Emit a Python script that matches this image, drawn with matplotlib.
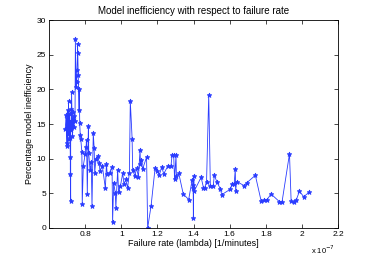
import matplotlib
matplotlib.use('Agg')
import matplotlib.pyplot as plt
from matplotlib.ticker import FormatStrFormatter

# failure rate in units of 1e-7 [1/minutes]
failure_rate = [
    0.690, 0.695, 0.698, 0.700, 0.702, 0.704, 0.706, 0.708, 0.710, 0.712,
    0.714, 0.716, 0.718, 0.718, 0.720, 0.720, 0.722, 0.724, 0.725, 0.728,
    0.730, 0.733, 0.736, 0.740, 0.744, 0.746, 0.750, 0.753, 0.755, 0.758,
    0.758, 0.762, 0.765, 0.768, 0.770, 0.773, 0.776, 0.782, 0.784, 0.790,
    0.800, 0.805, 0.808, 0.812, 0.818, 0.820, 0.827, 0.834, 0.838, 0.845,
    0.850, 0.853, 0.860, 0.870, 0.878, 0.882, 0.895, 0.912, 0.918, 0.922,
    0.935, 0.949, 0.952, 0.958, 0.967, 0.970, 0.980, 0.985, 0.995, 1.008,
    1.015, 1.025, 1.035, 1.045, 1.050, 1.060, 1.063, 1.075, 1.085, 1.095,
    1.104, 1.106, 1.110, 1.118, 1.140, 1.146, 1.165, 1.187, 1.200, 1.210,
    1.224, 1.235, 1.257, 1.275, 1.281, 1.290, 1.295, 1.303, 1.305, 1.318,
    1.343, 1.373, 1.392, 1.396, 1.398, 1.399, 1.401, 1.403, 1.442, 1.455,
    1.462, 1.472, 1.484, 1.493, 1.509, 1.515, 1.530, 1.549, 1.556, 1.604,
    1.613, 1.625, 1.631, 1.633, 1.638, 1.681, 1.694, 1.742, 1.774, 1.790,
    1.807, 1.829, 1.875, 1.890, 1.931, 1.940, 1.955, 1.968, 1.986, 2.010,
    2.041,
]

# percentage model inefficiency
inefficiency = [
    14.3, 16.3, 12.2, 15.8, 11.8, 17.0, 13.5, 18.3, 14.9, 12.9,
    16.5, 13.0, 10.3, 7.8, 3.9, 15.5, 14.1, 17.2, 19.6, 15.0,
    13.2, 16.8, 14.5, 16.2, 15.4, 27.2, 20.4, 21.1, 22.8, 25.3,
    26.6, 22.0, 17.0, 20.1, 15.1, 13.4, 12.8, 10.9, 3.5, 9.0,
    10.6, 11.7, 12.7, 4.9, 14.7, 10.8, 8.3, 9.5, 3.1, 13.7,
    11.5, 8.0, 10.0, 10.4, 9.4, 8.2, 9.0, 5.7, 9.3, 7.8,
    8.0, 8.8, 0.8, 6.5, 5.0, 2.9, 8.4, 5.2, 6.0, 7.9,
    6.3, 7.0, 5.8, 8.0, 18.3, 12.9, 8.4, 7.5, 8.6, 7.4,
    11.3, 9.3, 9.8, 8.5, 10.2, 0.0, 3.2, 8.6, 8.2, 7.6,
    8.8, 7.8, 8.9, 8.9, 10.5, 10.5, 7.0, 10.5, 7.5, 7.9,
    4.9, 4.1, 6.9, 5.8, 6.2, 1.4, 7.5, 5.3, 7.3, 5.8,
    5.8, 6.7, 19.2, 6.1, 6.1, 7.6, 6.6, 5.6, 4.8, 5.6,
    6.3, 6.4, 8.5, 5.4, 6.7, 6.1, 6.5, 7.6, 3.9, 4.0,
    4.1, 4.9, 3.8, 3.8, 10.7, 3.9, 3.7, 4.0, 5.3, 4.5,
    5.2,
]

plt.rcParams['font.family'] = ['Liberation Sans', 'DejaVu Sans']

fig = plt.figure(figsize=(3.74, 2.57), dpi=100)
ax = fig.add_axes([0.131, 0.113, 0.773, 0.809])

ax.plot(failure_rate, inefficiency, '-*', color='#2a3cff', linewidth=0.6,
        markersize=3.5, markeredgewidth=0.6)

ax.set_xlim(0.6, 2.2)
ax.set_ylim(0, 30)
ax.set_xticks([0.8, 1.0, 1.2, 1.4, 1.6, 1.8, 2.0, 2.2])
ax.set_yticks([0, 5, 10, 15, 20, 25, 30])
ax.xaxis.set_major_formatter(FormatStrFormatter('%g'))
ax.tick_params(direction='in', top=True, right=True, labelsize=6, length=3,
               width=0.5, pad=2)
for s in ax.spines.values():
    s.set_linewidth(0.6)

ax.set_title('Model inefficiency with respect to failure rate', fontsize=7, pad=4)
ax.set_xlabel('Failure rate (lambda) [1/minutes]', fontsize=6.5, labelpad=1)
ax.set_ylabel('Percentage model inefficiency', fontsize=6.5, labelpad=2)
ax.text(0.99, -0.075, r'x 10$^{-7}$', transform=ax.transAxes, fontsize=5.5,
        ha='right', va='top')

fig.savefig('out.png', dpi=100)
